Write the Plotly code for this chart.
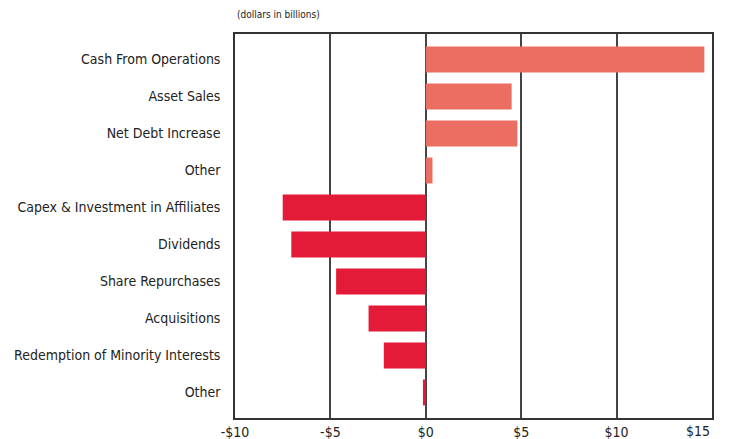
import plotly.graph_objects as go

# 항목 및 값 (단위: 십억 달러)
categories = ["Cash From Operations", "Asset Sales", "Net Debt Increase", "Other",
              "Capex & Investment in Affiliates", "Dividends", "Share Repurchases",
              "Acquisitions", "Redemption of Minority Interests", "Other"]
values = [14.6, 4.5, 4.8, 0.35, -7.5, -7.05, -4.7, -3.0, -2.2, -0.15]
x_ticks = [-10, -5, 0, 5, 10]
x_tick_labels = ["-$10", "-$5", "$0", "$5", "$10"]
x_max, x_max_label = 15, "$15"

POS_COLOR = "#EC6E62"
NEG_COLOR = "#E41A39"
FONT = "DejaVu Sans Condensed, Liberation Sans Narrow, Arial Narrow, sans-serif"

positions = list(range(len(categories)))
colors = [POS_COLOR if v >= 0 else NEG_COLOR for v in values]

fig = go.Figure(go.Bar(
    x=values,
    y=positions,
    orientation="h",
    width=0.7,
    marker=dict(color=colors, line=dict(width=0)),
))

fig.update_layout(
    width=716,
    height=439,
    margin=dict(l=235, r=4, t=34, b=21, autoexpand=False),
    plot_bgcolor="white",
    paper_bgcolor="white",
    showlegend=False,
    font=dict(family=FONT, size=14, color="#222"),
    annotations=[
        dict(
            text="(dollars in billions)",
            xref="paper", yref="paper",
            x=0, y=1.03, xanchor="left", yanchor="bottom",
            showarrow=False,
            font=dict(size=10, color="#222"),
        ),
        # 오른쪽 끝 눈금 라벨 (화면 밖으로 잘리지 않게 오른쪽 정렬)
        dict(
            text=x_max_label,
            xref="x", yref="paper",
            x=x_max, y=0, xanchor="right", yanchor="top", yshift=-3,
            showarrow=False,
            font=dict(size=14, color="#222"),
        ),
    ],
)

fig.update_xaxes(
    range=[-10, x_max],
    tickvals=x_ticks,
    ticktext=x_tick_labels,
    automargin=False,
    showgrid=True,
    gridcolor="#444",
    gridwidth=1.5,
    zeroline=True,
    zerolinecolor="#444",
    zerolinewidth=1.5,
    showline=True,
    linecolor="#333",
    linewidth=1.5,
    mirror=True,
    ticks="",
    tickfont=dict(size=14),
)

fig.update_yaxes(
    range=[len(categories) - 0.5 + 0.19, -0.5 - 0.19],
    tickvals=positions,
    ticktext=categories,
    automargin=False,
    showgrid=False,
    zeroline=False,
    showline=True,
    linecolor="#333",
    linewidth=1.5,
    mirror=True,
    ticks="",
    ticklabelstandoff=10,
    tickfont=dict(size=14),
)

# 페이지 기본 여백/스크롤 제거
fig.write_html(
    "out.html",
    config=dict(displayModeBar=False),
    post_script=(
        "document.documentElement.style.overflow='hidden';"
        "document.body.style.margin='0';"
        "document.body.style.overflow='hidden';"
    ),
)
